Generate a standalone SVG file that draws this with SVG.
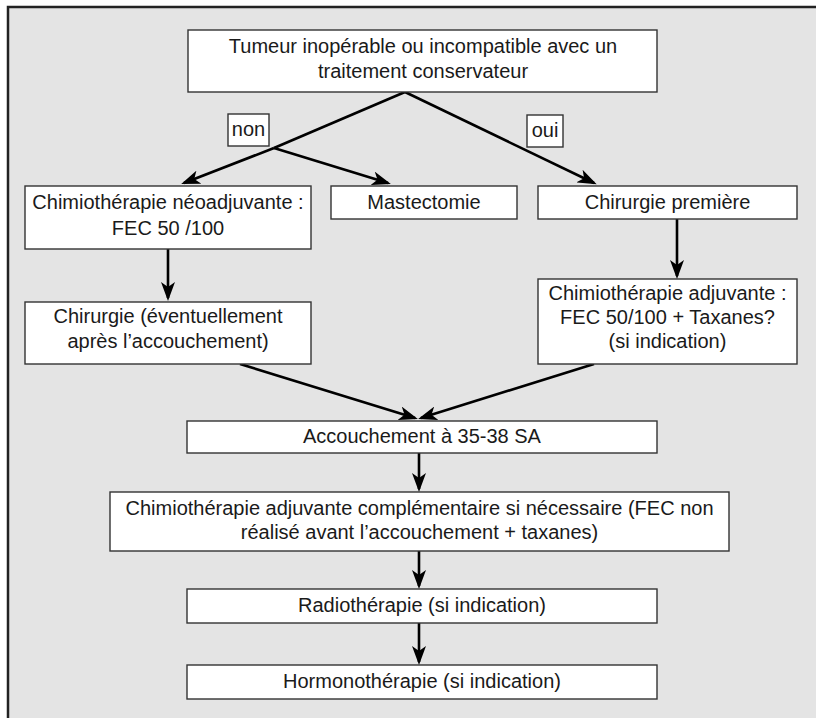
<svg xmlns="http://www.w3.org/2000/svg" width="816" height="718" viewBox="0 0 816 718">
<defs>
<marker id="ah" viewBox="0 0 19 14" markerUnits="userSpaceOnUse" markerWidth="19" markerHeight="14" refX="16" refY="7" orient="auto">
<path d="M0,0 L19,7 L0,14 L5,7 Z" fill="#000"/>
</marker>
</defs>
<style>
.box{fill:#fff;stroke:#333;stroke-width:1.4}
.t{font-family:"Liberation Sans",Arial,sans-serif;font-size:20px;fill:#1a1a1a;text-anchor:middle}
.c{fill:none;stroke:#000;stroke-width:2.6;marker-end:url(#ah)}
.p{fill:none;stroke:#000;stroke-width:2.6}
</style>
<rect x="8" y="7" width="808" height="711" fill="#e4e4e4"/>
<path d="M8,718 L8,7 L816,7" fill="none" stroke="#222" stroke-width="2.5"/>
<g id="connectors">
<line class="p" x1="405" y1="92" x2="274" y2="148"/>
<line class="c" x1="274" y1="148" x2="184" y2="183"/>
<line class="c" x1="274" y1="148" x2="388" y2="183"/>
<line class="c" x1="405" y1="92" x2="594" y2="183"/>
<line class="c" x1="168" y1="249" x2="168" y2="298"/>
<line class="c" x1="677" y1="219" x2="677" y2="276"/>
<line class="c" x1="240" y1="364" x2="415" y2="418"/>
<line class="c" x1="594" y1="364" x2="421" y2="418"/>
<line class="c" x1="419" y1="453" x2="419" y2="489"/>
<line class="c" x1="419" y1="551" x2="419" y2="586"/>
<line class="c" x1="419" y1="623" x2="419" y2="662"/>
</g>
<g id="n-top">
<rect class="box" x="188" y="30" width="469" height="62"/>
<text class="t" x="423" y="53">Tumeur inopérable ou incompatible avec un</text>
<text class="t" x="423" y="78">traitement conservateur</text>
</g>
<g id="l-non">
<rect class="box" x="228" y="114" width="41" height="32"/>
<text class="t" x="248.5" y="136">non</text>
</g>
<g id="l-oui">
<rect class="box" x="527" y="115" width="36" height="32"/>
<text class="t" x="545" y="137">oui</text>
</g>
<g id="n-neoadj">
<rect class="box" x="25" y="186" width="286" height="63"/>
<text class="t" x="168" y="209">Chimiothérapie néoadjuvante :</text>
<text class="t" x="168" y="235">FEC 50 /100</text>
</g>
<g id="n-mast">
<rect class="box" x="331" y="186" width="186" height="33"/>
<text class="t" x="424" y="209">Mastectomie</text>
</g>
<g id="n-chir1">
<rect class="box" x="538" y="186" width="259" height="33"/>
<text class="t" x="667.5" y="209">Chirurgie première</text>
</g>
<g id="n-chir2">
<rect class="box" x="25" y="302" width="286" height="62"/>
<text class="t" x="168" y="323">Chirurgie (éventuellement</text>
<text class="t" x="168" y="348">après l’accouchement)</text>
</g>
<g id="n-adj">
<rect class="box" x="538" y="279" width="259" height="85"/>
<text class="t" x="667.5" y="300">Chimiothérapie adjuvante :</text>
<text class="t" x="667.5" y="324">FEC 50/100 + Taxanes?</text>
<text class="t" x="667.5" y="348">(si indication)</text>
</g>
<g id="n-acc">
<rect class="box" x="187" y="421" width="470" height="32"/>
<text class="t" x="422" y="443">Accouchement à 35-38 SA</text>
</g>
<g id="n-compl">
<rect class="box" x="110" y="492" width="619" height="59"/>
<text class="t" x="419.5" y="515" textLength="588" lengthAdjust="spacing">Chimiothérapie adjuvante complémentaire si nécessaire (FEC non</text>
<text class="t" x="419.5" y="539">réalisé avant l’accouchement + taxanes)</text>
</g>
<g id="n-radio">
<rect class="box" x="187" y="589" width="470" height="34"/>
<text class="t" x="422" y="612">Radiothérapie (si indication)</text>
</g>
<g id="n-hormono">
<rect class="box" x="187" y="665" width="470" height="34"/>
<text class="t" x="422" y="688">Hormonothérapie (si indication)</text>
</g>
</svg>
